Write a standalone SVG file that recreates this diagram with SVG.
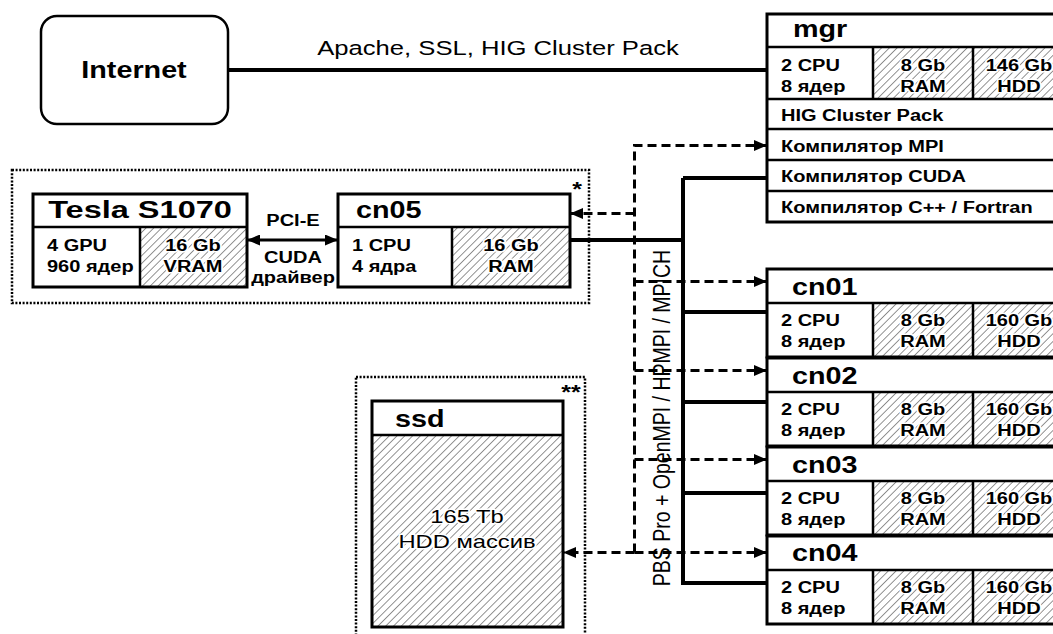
<svg xmlns="http://www.w3.org/2000/svg" width="1053" height="634" viewBox="0 0 1053 634">
<defs>
<pattern id="hatch" patternUnits="userSpaceOnUse" width="5.5" height="5.5" patternTransform="rotate(45)">
<rect width="5.5" height="5.5" fill="#fff"/>
<line x1="0" y1="0" x2="0" y2="5.5" stroke="#3a3a3a" stroke-width="1.1"/>
</pattern>
<marker id="arr" viewBox="0 0 13 11" refX="12" refY="5.5" markerWidth="13" markerHeight="11" markerUnits="userSpaceOnUse" orient="auto-start-reverse">
<path d="M0,0L13,5.5L0,11z" fill="#000"/>
</marker>
<style>
.box{fill:none;stroke:#000;stroke-width:3}
.bg{fill:#fff}
.ln{stroke:#000;stroke-width:2.5}
.h{fill:url(#hatch)}
text{font-family:"Liberation Sans",Arial,sans-serif;fill:#000}
.b{font-weight:bold}
.ti{font-size:23px;font-weight:bold}
.s{font-size:16px;font-weight:bold}
.r{font-size:16px;font-weight:bold}
.m{text-anchor:middle}
.halo{paint-order:stroke;stroke:#fff;stroke-width:3;stroke-linejoin:round}
.solid{fill:none;stroke:#000;stroke-width:4}
.dash{fill:none;stroke:#000;stroke-width:3;stroke-dasharray:9 5}
.dot{fill:none;stroke:#000;stroke-width:2.5;stroke-dasharray:2 1.6}
</style>
</defs>
<rect width="1053" height="634" fill="#fff"/>

<g id="frames">
<rect class="dot" x="12" y="170" width="577" height="133"/>
<text class="b" font-size="20" transform="translate(577 196) scale(1.25 1)" text-anchor="middle">*</text>
<rect class="dot" x="356" y="377" width="229" height="280"/>
<text class="b" font-size="20" transform="translate(571 399) scale(1.25 1)" text-anchor="middle">**</text>
</g>

<g id="connectors">
<path class="solid" d="M228,70H767"/>
<text font-size="20.5" transform="translate(498 55) scale(1.25 1)" text-anchor="middle">Apache, SSL, HIG Cluster Pack</text>
<path d="M248,240H337" fill="none" stroke="#000" stroke-width="3" marker-start="url(#arr)" marker-end="url(#arr)"/>
<text class="s m" transform="translate(293 226) scale(1.25 1)">PCI-E</text>
<text class="s m" transform="translate(293 263) scale(1.25 1)">CUDA</text>
<text class="s m" transform="translate(293 283) scale(1.25 1)">драйвер</text>
<path class="solid" d="M683,178V585M683,178H767M570,240H683M683,312H767M683,402H767M683,493H767M683,583H767"/>
<path class="dash" d="M634.5,552.5V145.5H766" marker-end="url(#arr)"/>
<path class="dash" d="M634.5,213.5H571" marker-end="url(#arr)"/>
<path class="dash" d="M634.5,281.5H766" marker-end="url(#arr)"/>
<path class="dash" d="M634.5,370.5H766" marker-end="url(#arr)"/>
<path class="dash" d="M634.5,459.5H766" marker-end="url(#arr)"/>
<path class="dash" d="M634.5,552.5H766" marker-end="url(#arr)"/>
<path class="dash" d="M634.5,552.5H564" marker-end="url(#arr)"/>
<text font-size="19.5" transform="translate(670 418) scale(1.25 1) rotate(-90)" text-anchor="middle">PBS Pro + OpenMPI / HPMPI / MPICH</text>
</g>

<g id="internet">
<rect x="41" y="16" width="187" height="108" rx="16" fill="#fff" stroke="#000" stroke-width="2.5"/>
<text class="b m" font-size="23" transform="translate(134 78) scale(1.25 1)">Internet</text>
</g>

<g id="mgr" transform="translate(767 14)">
<rect class="bg" x="0" y="0" width="303" height="208"/>
<rect class="h" x="106" y="33" width="197" height="52"/>
<path class="ln" d="M0,33H303M0,85H303M0,115H303M0,146H303M0,177H303M106,33V85M206,33V85"/>
<rect class="box" x="0" y="0" width="303" height="208"/>
<text class="ti" font-size="24" transform="translate(26 23) scale(1.25 1)">mgr</text>
<text class="s" transform="translate(14 57) scale(1.25 1)">2 CPU</text>
<text class="s" transform="translate(14 78) scale(1.25 1)">8 ядер</text>
<text class="s m halo" transform="translate(156 57) scale(1.25 1)">8 Gb</text>
<text class="s m halo" transform="translate(156 78) scale(1.25 1)">RAM</text>
<text class="s m halo" transform="translate(252 57) scale(1.25 1)">146 Gb</text>
<text class="s m halo" transform="translate(252 78) scale(1.25 1)">HDD</text>
<text class="r" transform="translate(14 107) scale(1.25 1)">HIG Cluster Pack</text>
<text class="r" transform="translate(14 138) scale(1.25 1)">Компилятор MPI</text>
<text class="r" transform="translate(14 168) scale(1.25 1)">Компилятор CUDA</text>
<text class="r" transform="translate(14 199) scale(1.25 1)">Компилятор C++ / Fortran</text>
</g>

<g id="tesla">
<rect class="bg" x="33" y="194" width="214" height="93"/>
<rect class="h" x="140" y="227" width="107" height="60"/>
<path class="ln" d="M33,227H247M140,227V287"/>
<rect class="box" x="33" y="194" width="214" height="93"/>
<text class="ti m" transform="translate(140 218) scale(1.25 1)" textLength="147" lengthAdjust="spacingAndGlyphs">Tesla S1070</text>
<text class="s" transform="translate(47 251) scale(1.25 1)">4 GPU</text>
<text class="s" transform="translate(47 272) scale(1.25 1)">960 ядер</text>
<text class="s m halo" transform="translate(193 251) scale(1.25 1)">16 Gb</text>
<text class="s m halo" transform="translate(193 272) scale(1.25 1)">VRAM</text>
</g>

<g id="cn05">
<rect class="bg" x="338" y="194" width="232" height="93"/>
<rect class="h" x="452" y="227" width="118" height="60"/>
<path class="ln" d="M338,227H570M452,227V287"/>
<rect class="box" x="338" y="194" width="232" height="93"/>
<text class="ti" transform="translate(356 218) scale(1.25 1)">cn05</text>
<text class="s" transform="translate(352 251) scale(1.25 1)">1 CPU</text>
<text class="s" transform="translate(352 272) scale(1.25 1)">4 ядра</text>
<text class="s m halo" transform="translate(511 251) scale(1.25 1)">16 Gb</text>
<text class="s m halo" transform="translate(511 272) scale(1.25 1)">RAM</text>
</g>

<g id="cn01" transform="translate(767 269)">
<rect class="bg" x="0" y="0" width="303" height="88"/>
<rect class="h" x="106" y="34" width="197" height="54"/>
<path class="ln" d="M0,34H303M106,34V88M206,34V88"/>
<rect class="box" x="0" y="0" width="303" height="88"/>
<text class="ti" transform="translate(25 26) scale(1.25 1)">cn01</text>
<text class="s" transform="translate(14 57) scale(1.25 1)">2 CPU</text>
<text class="s" transform="translate(14 78) scale(1.25 1)">8 ядер</text>
<text class="s m halo" transform="translate(156 57) scale(1.25 1)">8 Gb</text>
<text class="s m halo" transform="translate(156 78) scale(1.25 1)">RAM</text>
<text class="s m halo" transform="translate(252 57) scale(1.25 1)">160 Gb</text>
<text class="s m halo" transform="translate(252 78) scale(1.25 1)">HDD</text>
</g>

<g id="cn02" transform="translate(767 358)">
<rect class="bg" x="0" y="0" width="303" height="88"/>
<rect class="h" x="106" y="34" width="197" height="54"/>
<path class="ln" d="M0,34H303M106,34V88M206,34V88"/>
<rect class="box" x="0" y="0" width="303" height="88"/>
<text class="ti" transform="translate(25 26) scale(1.25 1)">cn02</text>
<text class="s" transform="translate(14 57) scale(1.25 1)">2 CPU</text>
<text class="s" transform="translate(14 78) scale(1.25 1)">8 ядер</text>
<text class="s m halo" transform="translate(156 57) scale(1.25 1)">8 Gb</text>
<text class="s m halo" transform="translate(156 78) scale(1.25 1)">RAM</text>
<text class="s m halo" transform="translate(252 57) scale(1.25 1)">160 Gb</text>
<text class="s m halo" transform="translate(252 78) scale(1.25 1)">HDD</text>
</g>

<g id="cn03" transform="translate(767 447)">
<rect class="bg" x="0" y="0" width="303" height="88"/>
<rect class="h" x="106" y="34" width="197" height="54"/>
<path class="ln" d="M0,34H303M106,34V88M206,34V88"/>
<rect class="box" x="0" y="0" width="303" height="88"/>
<text class="ti" transform="translate(25 26) scale(1.25 1)">cn03</text>
<text class="s" transform="translate(14 57) scale(1.25 1)">2 CPU</text>
<text class="s" transform="translate(14 78) scale(1.25 1)">8 ядер</text>
<text class="s m halo" transform="translate(156 57) scale(1.25 1)">8 Gb</text>
<text class="s m halo" transform="translate(156 78) scale(1.25 1)">RAM</text>
<text class="s m halo" transform="translate(252 57) scale(1.25 1)">160 Gb</text>
<text class="s m halo" transform="translate(252 78) scale(1.25 1)">HDD</text>
</g>

<g id="cn04" transform="translate(767 536)">
<rect class="bg" x="0" y="0" width="303" height="88"/>
<rect class="h" x="106" y="34" width="197" height="54"/>
<path class="ln" d="M0,34H303M106,34V88M206,34V88"/>
<rect class="box" x="0" y="0" width="303" height="88"/>
<text class="ti" transform="translate(25 25) scale(1.25 1)">cn04</text>
<text class="s" transform="translate(14 57) scale(1.25 1)">2 CPU</text>
<text class="s" transform="translate(14 78) scale(1.25 1)">8 ядер</text>
<text class="s m halo" transform="translate(156 57) scale(1.25 1)">8 Gb</text>
<text class="s m halo" transform="translate(156 78) scale(1.25 1)">RAM</text>
<text class="s m halo" transform="translate(252 57) scale(1.25 1)">160 Gb</text>
<text class="s m halo" transform="translate(252 78) scale(1.25 1)">HDD</text>
</g>

<g id="ssd">
<rect class="bg" x="372" y="401" width="191" height="226"/>
<rect class="h" x="372" y="435" width="191" height="192"/>
<path class="ln" d="M372,435H563"/>
<rect class="box" x="372" y="401" width="191" height="226"/>
<text class="ti" font-size="24" transform="translate(395 427) scale(1.25 1)">ssd</text>
<text class="m halo" font-size="19" transform="translate(467 523) scale(1.25 1)">165 Tb</text>
<text class="m halo" font-size="19" transform="translate(467 548) scale(1.25 1)">HDD массив</text>
</g>
</svg>
